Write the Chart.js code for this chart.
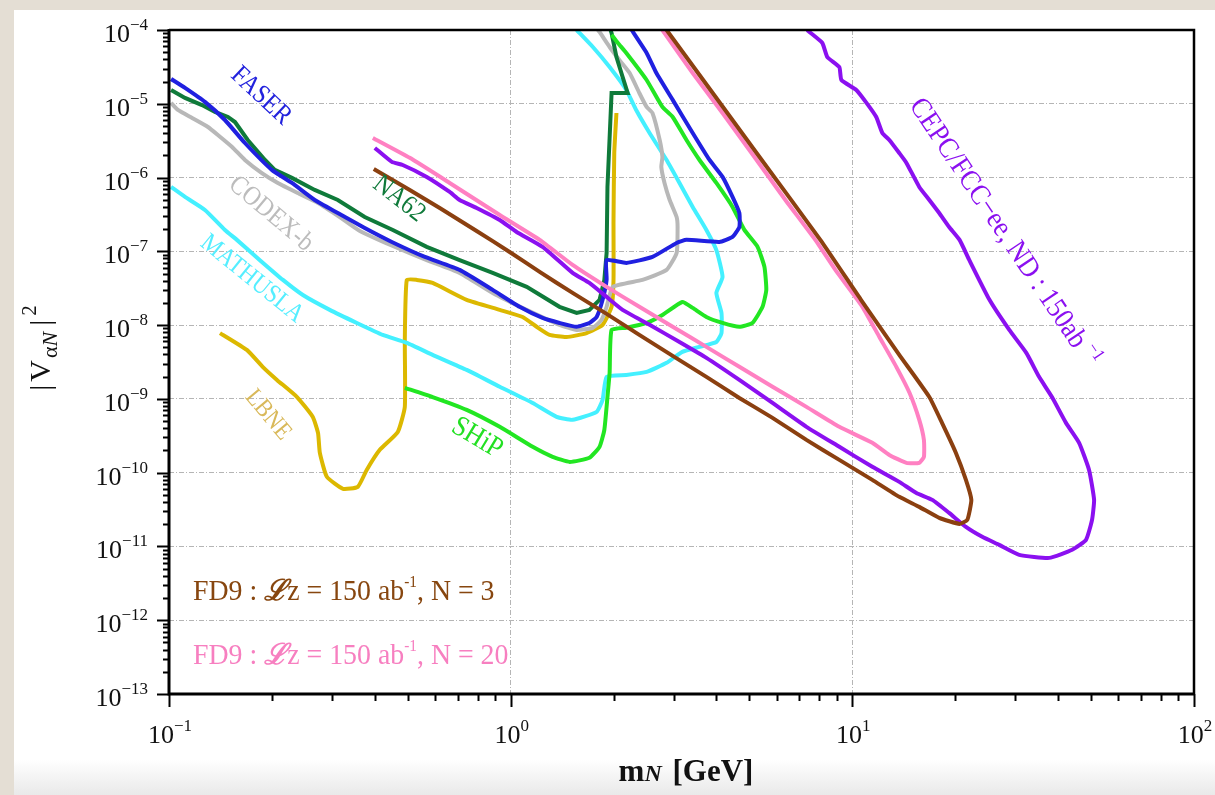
<!DOCTYPE html>
<html>
<head>
<meta charset="utf-8">
<title>Heavy neutral lepton sensitivity</title>
<script src="https://cdn.jsdelivr.net/npm/chart.js@4.4.1/dist/chart.umd.min.js"></script>
<style>
html,body{margin:0;padding:0;background:#e4ded4;overflow:hidden;}
canvas{display:block;}
</style>
</head>
<body>
<canvas id="chart" width="1215" height="795"></canvas>
<script>
// ---------------- data (m_N in GeV, |V_aN|^2) ----------------
const faserMass = [0.1014,0.1114,0.1274,0.1458,0.1668,0.2,0.229,0.267,0.312,0.374,0.449,0.561,0.709,0.886,1.062,1.24,1.39,1.56,1.70,1.785,1.858,1.909,1.909,2.18,2.60,3.06,3.27,4.08,4.46,4.67,4.67,4.46,4.17,3.82,3.41,2.98,2.67,2.50,2.26];
const faserMixing = [2.17e-5,1.64e-5,1.06e-5,6.03e-6,2.94e-6,1.27e-6,8.45e-7,4.97e-7,3.31e-7,2.07e-7,1.34e-7,8.4e-8,5.6e-8,3.0e-8,1.77e-8,1.25e-8,1.07e-8,9.5e-9,1.07e-8,1.29e-8,2.2e-8,4.1e-8,7.6e-8,6.97e-8,8.4e-8,1.30e-7,1.43e-7,1.34e-7,1.57e-7,2.14e-7,3.31e-7,5.46e-7,1.02e-6,1.73e-6,4.02e-6,1.13e-5,2.61e-5,4.88e-5,1e-4];

const na62Mass = [0.1014,0.1114,0.1249,0.1363,0.1488,0.156,0.170,0.191,0.204,0.229,0.267,0.312,0.374,0.452,0.568,0.709,0.886,1.114,1.39,1.56,1.70,1.82,1.88,1.909,1.92,1.974,2.20,2.126,2.04,1.974,1.96];
const na62Mixing = [1.54e-5,1.20e-5,9.6e-6,7.74e-6,6.62e-6,5.66e-6,3.23e-6,1.73e-6,1.27e-6,9.9e-7,6.79e-7,4.97e-7,2.92e-7,1.95e-7,1.15e-7,7.6e-8,5.1e-8,3.3e-8,1.77e-8,1.46e-8,1.61e-8,2.2e-8,4.1e-8,9.5e-8,7.46e-7,1.40e-5,1.40e-5,2.31e-5,4.3e-5,9.1e-5,1e-4];

const codexMass = [0.1014,0.1062,0.1168,0.130,0.139,0.153,0.1668,0.187,0.2083,0.238,0.273,0.316,0.362,0.452,0.568,0.709,0.886,1.114,1.39,1.56,1.74,1.845,1.909,1.99,2.43,2.86,3.06,3.08,3.06,2.92,2.82,2.76,2.78,2.73,2.60,2.50,2.38,2.23,2.08,1.948,1.82,1.80];
const codexMixing = [1.03e-5,8.24e-6,6.43e-6,4.85e-6,3.78e-6,2.60e-6,1.73e-6,1.15e-6,8.45e-7,6.18e-7,4.53e-7,2.92e-7,1.89e-7,1.18e-7,7.6e-8,5.1e-8,2.73e-8,1.61e-8,1.01e-8,8.6e-9,9.2e-9,1.18e-8,1.77e-8,3.3e-8,4.1e-8,5.6e-8,9.5e-8,2.14e-7,2.92e-7,4.97e-7,8.45e-7,1.39e-6,1.90e-6,3.23e-6,7.5e-6,9.06e-6,1.40e-5,2.61e-5,3.92e-5,5.88e-5,9.4e-5,1e-4];

const mathuslaMass = [0.1014,0.1114,0.1274,0.1458,0.158,0.1845,0.2155,0.2465,0.2955,0.3546,0.4224,0.4966,0.591,0.7435,0.929,1.16,1.363,1.518,1.785,1.858,1.909,2.18,2.50,2.86,3.18,3.57,4.0,4.14,4.14,4.0,4.17,4.0,3.74,3.41,3.12,2.86,2.55,2.33,2.18,1.948,1.74,1.56];
const mathuslaMixing = [7.46e-7,5.46e-7,3.64e-7,1.95e-7,1.43e-7,7.6e-8,4.1e-8,2.56e-8,1.61e-8,1.07e-8,7.36e-9,5.74e-9,3.95e-9,2.47e-9,1.46e-9,8.8e-10,5.7e-10,5.2e-10,6.67e-10,9.7e-10,1.99e-9,2.11e-9,2.32e-9,3.08e-9,4.34e-9,5.07e-9,5.9e-9,7.8e-9,1.46e-8,2.73e-8,4.5e-8,1.04e-7,1.95e-7,4.0e-7,8.45e-7,1.73e-6,4.02e-6,8.24e-6,1.54e-5,3.15e-5,5.88e-5,1e-4];

const shipMass = [0.49,0.591,0.7435,0.929,1.16,1.327,1.488,1.70,1.82,1.88,1.92,1.948,1.974,2.18,2.50,2.78,3.18,3.41,3.74,4.17,4.67,5.10,5.46,5.60,5.53,5.28,4.83,4.46,4.0,3.57,3.27,2.98,2.78,2.50,2.18,2.06,1.974];
const shipMixing = [1.41e-9,1.06e-9,7.1e-10,4.18e-10,2.24e-10,1.64e-10,1.40e-10,1.59e-10,2.24e-10,3.8e-10,1.06e-9,2.25e-9,8.6e-9,9.2e-9,1.07e-8,1.37e-8,2.06e-8,1.71e-8,1.29e-8,1.07e-8,9.5e-9,1.07e-8,1.77e-8,3.0e-8,6.15e-8,1.15e-7,1.95e-7,4.0e-7,8.45e-7,1.73e-6,3.23e-6,6.62e-6,9.06e-6,2.1e-5,4.88e-5,6.67e-5,8.6e-5];

const lbneMass = [0.141,0.169,0.188,0.207,0.237,0.2636,0.273,0.2764,0.2897,0.323,0.357,0.379,0.414,0.4674,0.49,0.49,0.4966,0.531,0.591,0.7435,0.929,1.084,1.191,1.30,1.458,1.668,1.858,1.974,2.0,2.0,2.01,2.04];
const lbneMixing = [7.8e-9,4.61e-9,2.72e-9,1.81e-9,1.06e-9,5.7e-10,3.46e-10,1.85e-10,8.8e-11,6.04e-11,6.43e-11,1.09e-10,2.04e-10,3.57e-10,7.8e-10,6.3e-9,4.1e-8,4.1e-8,3.73e-8,2.2e-8,1.61e-8,1.29e-8,9.5e-9,7.36e-9,6.9e-9,7.8e-9,1.01e-8,1.77e-8,4.1e-8,2.66e-7,2.15e-6,7.5e-6];

const cepcMass = [0.4003,0.449,0.483,0.568,0.663,0.709,0.795,0.929,1.041,1.24,1.518,1.70,1.909,2.126,2.55,3.12,3.74,4.67,5.84,7.34,9.16,11.44,13.72,15.4,17.14,19.2,21.5,24.0,26.9,30.8,37.7,44.0,48.3,50.3,51.0,49.3,46.1,42.2,38.4,35.2,32.3,28.8,25.2,22.0,20.6,19.2,17.96,16.8,15.7,14.4,13.72,12.83,12.24,11.75,11.0,10.27,9.29,9.16,8.45,8.17,7.49,7.38];
const cepcMixing = [2.52e-6,1.63e-6,1.48e-6,1.02e-6,6.38e-7,4.97e-7,3.87e-7,2.66e-7,1.83e-7,1.15e-7,5.1e-8,3.73e-8,2.41e-8,1.61e-8,1.01e-8,5.9e-9,3.6e-9,1.81e-9,8.8e-10,4.18e-10,2.24e-10,1.2e-10,7.5e-11,5.3e-11,4.28e-11,2.85e-11,1.84e-11,1.35e-11,1.05e-11,7.7e-12,7.0e-12,9.0e-12,1.23e-11,2.29e-11,4.28e-11,1.09e-10,2.54e-10,4.73e-10,1.06e-9,1.99e-9,4.2e-9,8.6e-9,2.2e-8,7.6e-8,1.43e-7,2.14e-7,3.31e-7,4.97e-7,7.46e-7,1.58e-6,2.15e-6,3.23e-6,4.02e-6,6.62e-6,1.03e-5,1.54e-5,2.1e-5,3.15e-5,4.3e-5,6.67e-5,9.4e-5,1e-4];

const fd9n20Mass = [0.395,0.5066,0.663,0.929,1.216,1.518,1.909,2.38,2.98,3.74,4.67,5.84,7.34,9.16,11.44,12.83,14.4,15.7,16.2,16.2,15.7,14.7,13.45,12.0,10.7,8.92,7.79,6.37,5.17,4.17,3.41,2.78];
const fd9n20Mixing = [3.44e-6,1.85e-6,8.45e-7,3.11e-7,1.43e-7,6.55e-8,3.3e-8,1.77e-8,9.5e-9,5.07e-9,2.72e-9,1.46e-9,7.8e-10,4.18e-10,2.54e-10,1.74e-10,1.36e-10,1.36e-10,1.64e-10,2.78e-10,5.2e-10,1.21e-9,2.72e-9,6.9e-9,1.77e-8,5.6e-8,1.43e-7,4.97e-7,1.90e-6,7.5e-6,2.61e-5,1e-4];

const fd9n3Mass = [0.3975,0.5066,0.620,0.795,0.993,1.216,1.518,1.909,2.38,2.98,3.74,4.67,5.84,7.34,9.16,11.44,13.72,15.7,17.96,20.6,21.7,22.3,21.5,20.1,18.3,16.8,13.72,10.6,8.06,5.35,2.86];
const fd9n3Mixing = [1.31e-6,6.79e-7,3.87e-7,1.89e-7,9.8e-8,5.26e-8,2.73e-8,1.42e-8,7.36e-9,3.83e-9,1.99e-9,1.03e-9,5.53e-10,2.78e-10,1.49e-10,7.98e-11,4.7e-11,3.44e-11,2.44e-11,2.02e-11,2.29e-11,4.28e-11,7.98e-11,1.85e-10,4.73e-10,1.06e-9,3.95e-9,2.2e-8,1.43e-7,1.90e-6,1e-4];

// tick labels (powers of ten)
const xTickExponents = [-1, 0, 1, 2];
const yTickExponents = [-13, -12, -11, -10, -9, -8, -7, -6, -5, -4];

// ---------------- helpers ----------------
const SERIF = '"Liberation Serif","Times New Roman",serif';
function pairs(m, v){ const n = Math.min(m.length, v.length); const out = []; for (let i = 0; i < n; i++) out.push({x: m[i], y: v[i]}); return out; }
function isDecade(v){ const l = Math.log10(v); return Math.abs(l - Math.round(l)) < 1e-6; }
function decadeTicks(exps){ const t = []; for (let i = 0; i < exps.length; i++){ const b = Math.pow(10, exps[i]); t.push(b); if (i < exps.length - 1) for (let k = 2; k <= 9; k++) t.push(k * b); } return t; }
function richText(ctx, parts, x, y, align){
  let w = 0;
  parts.forEach(p => { ctx.font = p.font; p.w = ctx.measureText(p.t).width; w += p.w + (p.gap || 0); });
  let sx = align === 'right' ? x - w : align === 'center' ? x - w / 2 : x;
  ctx.textAlign = 'left'; ctx.textBaseline = 'alphabetic';
  parts.forEach(p => { ctx.font = p.font; ctx.fillText(p.t, sx, y + (p.dy || 0)); sx += p.w + (p.gap || 0); });
  return w;
}
const supText = e => String(e).replace('-', '\u2212');

const labels = [
  {text: 'FASER', x: 261, y: 96, angle: 43, color: '#2222dd', size: 27},
  {text: 'CODEX-b', x: 271, y: 214, angle: 40, color: '#bcbcbc', size: 27},
  {text: 'MATHUSLA', x: 252, y: 279, angle: 39, color: '#55eeff', size: 26},
  {text: 'NA62', x: 399, y: 199, angle: 38, color: '#0f7a3a', size: 27},
  {text: 'LBNE', x: 268, y: 415, angle: 50, color: '#d9b95a', size: 25},
  {text: 'SHiP', x: 477, y: 438, angle: 31, color: '#22e022', size: 29}
];

const decor = {
  id: 'decor',
  beforeDraw(chart){
    const ctx = chart.ctx;
    ctx.save();
    ctx.fillStyle = '#e4ded4';
    ctx.fillRect(0, 0, chart.width, chart.height);
    const g = ctx.createLinearGradient(0, 10, 0, 795);
    g.addColorStop(0, '#ffffff'); g.addColorStop(0.955, '#ffffff'); g.addColorStop(1, '#e9e9e9');
    ctx.fillStyle = g;
    ctx.fillRect(14, 10, chart.width - 14, chart.height - 10);
    ctx.restore();
  },
  afterDraw(chart){
    const ctx = chart.ctx, a = chart.chartArea;
    const xs = chart.scales.x, ys = chart.scales.y;
    ctx.save();
    // frame
    ctx.strokeStyle = '#000';
    ctx.lineWidth = 2.5;
    ctx.beginPath(); ctx.moveTo(a.left, a.top); ctx.lineTo(a.right, a.top); ctx.lineTo(a.right, a.bottom); ctx.stroke();
    ctx.lineWidth = 3;
    ctx.beginPath(); ctx.moveTo(a.left, a.top - 1); ctx.lineTo(a.left, a.bottom); ctx.lineTo(a.right + 1, a.bottom); ctx.stroke();
    // tick marks
    ctx.lineWidth = 2;
    ys.ticks.forEach(t => {
      const py = Math.round(ys.getPixelForValue(t.value)) + 0.5;
      const len = isDecade(t.value) ? 12 : 6;
      ctx.beginPath(); ctx.moveTo(a.left - len, py); ctx.lineTo(a.left, py); ctx.stroke();
    });
    xs.ticks.forEach(t => {
      const px = Math.round(xs.getPixelForValue(t.value)) + 0.5;
      const len = isDecade(t.value) ? 13 : 7;
      ctx.beginPath(); ctx.moveTo(px, a.bottom); ctx.lineTo(px, a.bottom + len); ctx.stroke();
    });
    // tick labels
    ctx.fillStyle = '#111';
    yTickExponents.forEach(e => {
      const py = ys.getPixelForValue(Math.pow(10, e));
      richText(ctx, [{t: '10', font: `26px ${SERIF}`}, {t: supText(e), font: `17px ${SERIF}`, dy: -12}], 148, py + 12, 'right');
    });
    xTickExponents.forEach(e => {
      const px = xs.getPixelForValue(Math.pow(10, e));
      richText(ctx, [{t: '10', font: `26px ${SERIF}`}, {t: supText(e), font: `17px ${SERIF}`, dy: -12}], px + 1, 743, 'center');
    });
    // axis titles
    richText(ctx, [
      {t: 'm', font: `bold 31px ${SERIF}`},
      {t: 'N', font: `italic bold 24px ${SERIF}`, gap: 3},
      {t: ' [GeV]', font: `bold 31px ${SERIF}`}
    ], 686, 781, 'center');
    ctx.save();
    ctx.translate(50, 348);
    ctx.rotate(-Math.PI / 2);
    richText(ctx, [
      {t: '|', font: `30px ${SERIF}`, gap: 3},
      {t: 'V', font: `30px ${SERIF}`, gap: 2},
      {t: '\u03b1', font: `22px ${SERIF}`, dy: 7},
      {t: 'N', font: `italic 22px ${SERIF}`, dy: 7, gap: 6},
      {t: '|', font: `30px ${SERIF}`, gap: 4},
      {t: '2', font: `21px ${SERIF}`, dy: -14}
    ], 0, 0, 'center');
    ctx.restore();
    // experiment labels (narrow, tall serif look)
    labels.forEach(l => {
      ctx.save();
      ctx.translate(l.x, l.y);
      ctx.rotate(l.angle * Math.PI / 180);
      ctx.scale(0.88, 1);
      ctx.fillStyle = l.color;
      ctx.font = `${l.size}px ${SERIF}`;
      ctx.textAlign = 'center'; ctx.textBaseline = 'middle';
      ctx.fillText(l.text, 0, 0);
      ctx.restore();
    });
    // CEPC label
    ctx.save();
    ctx.translate(1005, 232);
    ctx.rotate(56 * Math.PI / 180);
    ctx.scale(0.9, 1);
    ctx.fillStyle = '#8b10f0';
    richText(ctx, [
      {t: 'CEPC/FCC\u2212ee, ND : 150ab', font: `29px ${SERIF}`, gap: 6},
      {t: '\u22121', font: `18px ${SERIF}`, dy: -12}
    ], 0, 9, 'center');
    ctx.restore();
    // FD9 labels
    const fd9 = (n, color, y) => {
      ctx.save();
      ctx.translate(193, y);
      ctx.scale(0.96, 1);
      ctx.fillStyle = color;
      richText(ctx, [
        {t: 'FD9 : ', font: `29px ${SERIF}`},
        {t: '\u2112', font: `italic bold 29px ${SERIF}`},
        {t: 'z = 150 ab', font: `29px ${SERIF}`},
        {t: '-1', font: `16px ${SERIF}`, dy: -13},
        {t: ', N = ' + n, font: `29px ${SERIF}`}
      ], 0, 0, 'left');
      ctx.restore();
    };
    fd9('3', '#87460f', 600);
    fd9('20', '#f77fc0', 664);
    ctx.restore();
  }
};

const series = [
  {label: 'FD9, N = 3', m: fd9n3Mass, v: fd9n3Mixing, color: '#8b4010'},
  {label: 'FD9, N = 20', m: fd9n20Mass, v: fd9n20Mixing, color: '#ff80c2'},
  {label: 'CEPC/FCC-ee, ND', m: cepcMass, v: cepcMixing, color: '#8b10f0'},
  {label: 'FASER', m: faserMass, v: faserMixing, color: '#2020e0'},
  {label: 'SHiP', m: shipMass, v: shipMixing, color: '#22e622'},
  {label: 'NA62', m: na62Mass, v: na62Mixing, color: '#0f7a3a'},
  {label: 'CODEX-b', m: codexMass, v: codexMixing, color: '#b8b8b8'},
  {label: 'MATHUSLA', m: mathuslaMass, v: mathuslaMixing, color: '#44f0ff'},
  {label: 'LBNE', m: lbneMass, v: lbneMixing, color: '#dcb800'}
];

const gridColor = c => (c.tick && isDecade(c.tick.value)) ? '#b5b5b5' : 'rgba(0,0,0,0)';

new Chart(document.getElementById('chart'), {
  type: 'scatter',
  data: {
    datasets: series.map(s => ({
      label: s.label,
      data: pairs(s.m, s.v),
      showLine: true,
      borderColor: s.color,
      backgroundColor: s.color,
      borderWidth: 4,
      pointRadius: 0,
      pointHoverRadius: 0,
      tension: s.label === 'NA62' ? 0 : 0.15,
      fill: false
    }))
  },
  options: {
    responsive: false,
    animation: false,
    devicePixelRatio: 1,
    layout: {padding: {left: 0, top: 30, right: 21, bottom: 0}},
    plugins: {legend: {display: false}, tooltip: {enabled: false}},
    scales: {
      x: {
        type: 'logarithmic', position: 'bottom', min: 0.1, max: 100,
        afterBuildTicks: s => { s.ticks = decadeTicks(xTickExponents).map(v => ({value: v})); },
        afterFit: s => { s.height = 101; },
        ticks: {display: false},
        grid: {color: gridColor, lineWidth: 1, drawTicks: false},
        border: {display: false, dash: [5, 2, 1, 2]}
      },
      y: {
        type: 'logarithmic', position: 'left', min: 1e-13, max: 1e-4,
        afterBuildTicks: s => { s.ticks = decadeTicks(yTickExponents).map(v => ({value: v})); },
        afterFit: s => { s.width = 169; },
        ticks: {display: false},
        grid: {color: gridColor, lineWidth: 1, drawTicks: false},
        border: {display: false, dash: [5, 2, 1, 2]}
      }
    }
  },
  plugins: [decor]
});
</script>
</body>
</html>
